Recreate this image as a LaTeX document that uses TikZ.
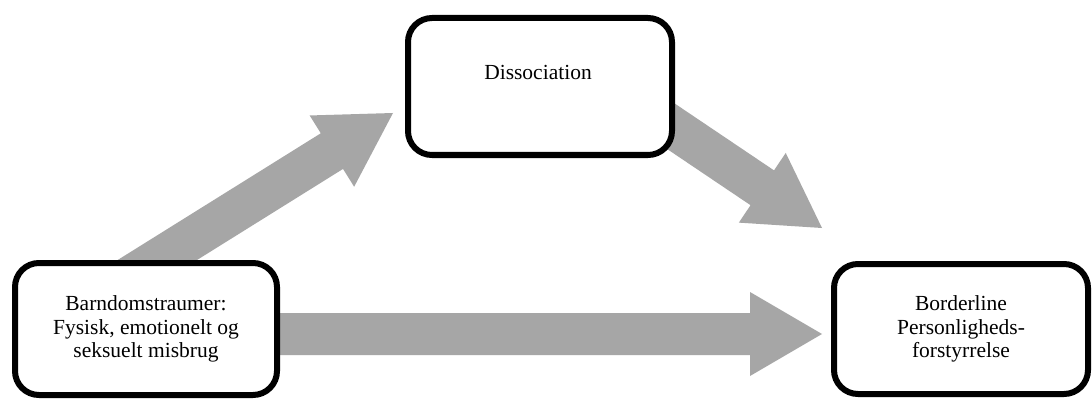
\documentclass[tikz,border=0pt]{standalone}
\usepackage{fontspec}
\setmainfont{Liberation Serif}
\usetikzlibrary{calc}
\definecolor{arrowgray}{HTML}{A6A6A6}
\tikzset{
  box/.style={draw=black, line width=6pt, rounded corners=24pt, fill=white,
    align=center, inner sep=0pt, font=\fontsize{21.5}{23.5}\selectfont},
  lbl/.style={align=center, inner sep=0pt, font=\fontsize{21.5}{23.5}\selectfont},
  fat/.style={fill=arrowgray, draw=none}
}
\newcommand{\fatarrow}[2]{%
  \coordinate (hb) at ($(#2)!72pt!(#1)$);
  \fill[fat] ($(#1)!21pt!90:(#2)$) -- ($(hb)!21pt!90:(#2)$) -- ($(hb)!42pt!90:(#2)$)
    -- (#2) -- ($(hb)!42pt!-90:(#2)$) -- ($(hb)!21pt!-90:(#2)$)
    -- ($(#1)!21pt!-90:(#2)$) -- cycle;
}
\begin{document}
\begin{tikzpicture}[x=1pt, y=-1pt]
\useasboundingbox (0,0) rectangle (1092,401);
\fill[white] (0,0) rectangle (1092,401);
% arrow coordinates
\coordinate (a1s) at (128.5,278);
\coordinate (a1t) at (393,113);
\coordinate (a2s) at (646,109.5);
\coordinate (a2t) at (822,228);
\coordinate (a3s) at (250,334);
\coordinate (a3t) at (822,334);
\fatarrow{a1s}{a1t}
\fatarrow{a2s}{a2t}
\fatarrow{a3s}{a3t}
% boxes
\node[box, minimum width=262pt, minimum height=132pt] (trauma) at (146,329)
  {Barndomstraumer:\\Fysisk, emotionelt og\\seksuelt misbrug};
\node[box, minimum width=264pt, minimum height=137pt] (diss) at (540,86.5) {};
\node[lbl] (disslabel) at (538,72) {Dissociation};
\node[box, minimum width=254pt, minimum height=130pt] (bpd) at (961,329)
  {Borderline\\Personligheds-\\forstyrrelse};
\end{tikzpicture}
\end{document}
